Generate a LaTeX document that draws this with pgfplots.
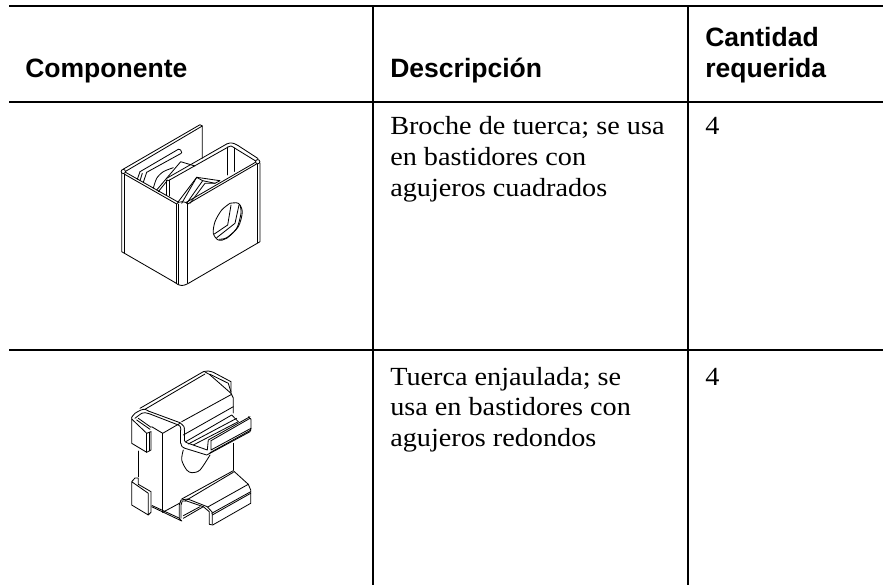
\documentclass[border=0pt]{standalone}
\usepackage{pgfplots}
\pgfplotsset{compat=1.18}
\usepackage{fontspec}
\setmainfont{Liberation Serif}
\newfontfamily\bodyf[FakeStretch=1.08]{Liberation Serif}
\newfontfamily\headf{Liberation Sans}
\tikzset{
  dr/.style={black,line width=0.62pt,line join=round,line cap=round},
  hd/.style={anchor=base west,inner sep=0pt,font=\headf\bfseries\fontsize{19.9}{24}\selectfont},
  bd/.style={anchor=base west,inner sep=0pt,font=\bodyf\fontsize{19.6}{24}\selectfont},
}
\newcommand\dl[1]{\addplot[dr,no markers] coordinates {#1};}
\newcommand\dc[1]{\addplot[dr,no markers,smooth] coordinates {#1};}
\newcommand\tl[1]{\addplot[black,line width=1.5pt,no markers] coordinates {#1};}
\begin{document}
\begin{tikzpicture}
\useasboundingbox (0,0) rectangle (662.25pt,438.75pt);
\begin{axis}[
  at={(0,0)}, anchor=south west,
  scale only axis, width=662.25pt, height=438.75pt,
  xmin=0, xmax=883, ymin=0, ymax=585, y dir=reverse,
  hide axis, clip=true,
]
% table rules
\tl{(9,6.5)(883,6.5)}
\tl{(9,102.5)(883,102.5)}
\tl{(9,350)(883,350)}
\tl{(372.8,6.5)(372.8,585)}
\tl{(687.7,6.5)(687.7,585)}
% clip drawing: shell
\dl{(123,169.3)(200,124.7)(202.3,126)(202.3,158.3)}
\dl{(125,171.7)(202.3,126)}
\dl{(121.7,172)(121.7,251.7)(175,282.5)}
\dl{(124,174)(124,253)}
\dc{(175,282.5)(178,284.5)(182,285.5)(186,284.5)(189,283)}
\dl{(189,283)(260,241.7)(260,163)}
\dl{(257.5,164)(257.5,243)}
\dl{(176.7,204)(176.7,283)}
\dl{(178.5,204)(178.5,284)}
\dl{(187.7,204)(187.7,283)}
\dc{(176.7,204)(178,202.5)(182,201.8)(186,202.5)(187.7,204)}
\dl{(125,174.5)(176.7,204)}
\dl{(125,172)(178,202)}
\dl{(187.7,204)(256.5,164)}
\dl{(186,202.5)(256,162)}
\dl{(166.7,178.3)(226.7,144)}
\dl{(168.3,180.7)(227.7,147.3)}
\dc{(226.7,144)(230,143)(234,143.5)(238,145.5)}
\dl{(238,145.5)(258,158.5)}
\dl{(235,148.3)(256.5,161.5)}
\dc{(227.7,147.3)(231,146)(235,148.3)}
\dl{(227.7,147)(227.7,175)}
\dl{(234.5,148)(234.5,171.5)}
\dl{(166.7,180)(166.7,195)}
\dl{(169,180)(169,196)}
% slot
\dl{(140,171.7)(178.3,149.3)}
\dc{(178.3,149.3)(180.7,150)(181.7,152.7)(180,154)}
\dl{(180,154)(146.7,172.3)}
\dl{(140,171.7)(137.3,179.3)}
\dl{(142.3,173.3)(140,180.7)}
\dl{(146.7,172.3)(143.3,182.3)}
\dc{(153.3,188.3)(156.7,178.3)(163.3,171.7)(173.3,167.7)}
% nuts
\dl{(156.7,190)(180.7,161.7)(195,166)}
\dl{(158.3,191.7)(167.7,180)}
\dl{(181.7,203.3)(196.7,177.3)(220,180.7)(215,183.3)(202.7,180.7)(186.7,203.3)}
\dl{(190,203.3)(205,183.3)(215,183.3)}
\dl{(196.7,177.3)(202.7,180.7)}
\dl{(178.3,201.7)(196.7,177.3)}
% hole
\dc{(230,203.3)(238.3,203.3)(242.3,211.7)(238.3,226.7)(226.7,238.3)(218.3,240)(213.3,233.3)(215,221.7)(221.7,210)(230,203.3)}
\dc{(240,205)(241,213.3)(236.7,228.3)(226.7,237.7)(219.3,239.3)}
\dl{(227.7,225)(214.3,234)}
\dl{(231,205)(227.7,225)}
\dl{(239,205)(235,223.3)(216.7,237.7)}
\addplot[black,line width=0.62pt,only marks,mark=*,mark size=1.6pt,mark options={fill=white}] coordinates {(123.3,171.5)(257.7,161.7)};
% cage nut: top
\dl{(140,408.3)(203.3,371.7)}
\dc{(203.3,371.7)(208.3,371)(213.3,372.3)}
\dl{(213.3,372.3)(231,381.7)(231,393.3)}
\dl{(145,409.3)(205,374)}
\dl{(205,372)(209.3,374.3)(231,393.3)}
\dl{(210,374.3)(228.3,383.3)(231,392)}
\dl{(231,393.3)(233.3,398)(233.3,413)}
\dl{(181.7,421.7)(231.7,394.3)}
\dl{(183.3,435)(233.3,406.7)}
% upper profile
\dc{(131.7,417.3)(135,413.3)(141,410)(145,409.3)(148.3,411)}
\dl{(148.3,411)(180,422.7)}
\dc{(180,422.7)(184,426.7)(184.3,430)}
\dl{(184.3,430)(184.3,440)}
\dc{(184.3,440)(185.5,442)(188.3,443.3)}
\dl{(188.3,443.3)(207.3,450)(208.3,440)(250,416.7)}
\dc{(135,418.3)(141.7,413.3)(145,412.7)(150,414)}
\dl{(150,414)(178.3,425)}
\dc{(178.3,425)(180.2,426.5)(180.9,430)}
\dl{(180.9,430)(180.9,443.3)}
\dc{(180.9,443.3)(182,446.5)(185,448.3)}
\dl{(185,448.3)(206.7,455)(210,453.3)(250,431.7)(251,428.3)(251,419.3)(248.3,416.7)}
\dl{(211,440.7)(250,418.3)}
\dl{(211,440.7)(211,450)(251,428.3)}
\dl{(210,452.7)(251,430)}
\dl{(185.7,441.7)(231.7,415)(238.3,421.7)}
\dl{(188.3,444)(236.7,418.3)}
\dl{(193.3,445)(238.3,421.7)}
% verticals
\dl{(138.3,451)(138.3,476.7)}
\dl{(162.7,433.3)(162.7,512.3)}
\dl{(233.3,443.3)(233.3,470)}
\dl{(151.7,426.7)(162.7,433.3)(180,423.3)}
% upper left clip
\dl{(131.7,417.3)(131.7,443.3)(146.7,452.3)(151,450)(151,431.7)}
\dl{(146.7,433.3)(146.7,452.3)}
\dl{(149,432.3)(149,450.7)}
\dl{(131.7,419)(146.7,433.3)}
\dl{(136.7,420)(150,429.3)}
\dl{(138.3,418.3)(151,427.3)}
\dl{(146.7,433.3)(151,431.7)}
% lower left clip
\dl{(131.7,481.7)(131.7,505)(148.3,515)(151,512.3)(151,491.7)(138.3,484.3)(138.3,478)(135,478)(131.7,481.7)(148.3,493.3)(148.3,515)}
% ellipse
\dc{(183.3,450)(181.7,460)(186.7,470)(192,472.7)(200,470)(210,455)}
% lower part
\dl{(233.3,470.7)(248.3,484.3)(250.7,490)(250.7,503.3)(212.7,525)(209.3,524.3)(209.3,511.7)(203.3,506.7)(186.7,501)(182.3,501)(181,505)(181,518.3)}
\dl{(212.3,524)(212.3,512.3)(207.3,506.7)(187.7,499)(181,500)(179.3,505)(179.3,518.3)(181.7,521)(151.7,506.7)}
\dl{(152,505.5)(179,518)}
\dl{(233.3,470.7)(181.7,499)}
\dl{(233.3,472.3)(185,501)}
\dl{(208.3,506.7)(248.3,484.3)}
\dl{(211.7,513.3)(250.7,491.7)}
\dl{(212.3,515)(250.7,493.3)}
\dl{(162.7,512.3)(180,503)}
\dl{(183.3,518.3)(203.3,506.7)}
\dl{(183.3,515.7)(200,506.7)}
% text
\node[hd] at (axis cs:25,78) {Componente};
\node[hd] at (axis cs:390,78) {Descripción};
\node[hd] at (axis cs:705,47) {Cantidad};
\node[hd] at (axis cs:705,78) {requerida};
\node[bd] at (axis cs:390,135) {Broche de tuerca; se usa};
\node[bd] at (axis cs:390,165.5) {en bastidores con};
\node[bd] at (axis cs:390,196) {agujeros cuadrados};
\node[bd] at (axis cs:705,135) {4};
\node[bd] at (axis cs:390,385) {Tuerca enjaulada; se};
\node[bd] at (axis cs:390,415.5) {usa en bastidores con};
\node[bd] at (axis cs:390,446) {agujeros redondos};
\node[bd] at (axis cs:705,385) {4};
\end{axis}
\end{tikzpicture}
\end{document}
